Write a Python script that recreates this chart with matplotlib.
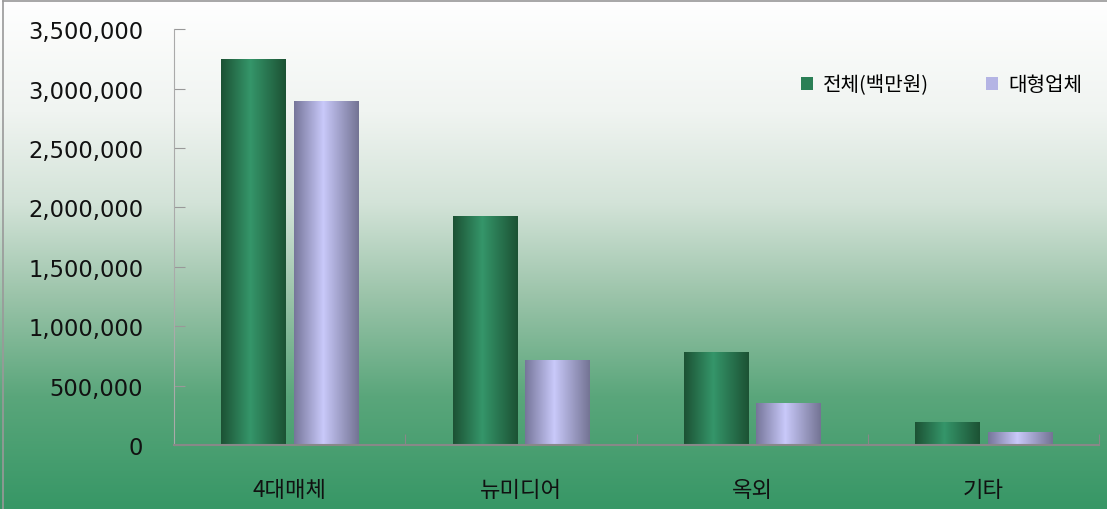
import numpy as np
import matplotlib.pyplot as plt
from matplotlib.colors import LinearSegmentedColormap
from matplotlib.patches import Rectangle

plt.rcParams['font.family'] = ['Noto Sans CJK KR', 'DejaVu Sans']

categories = ['4대매체', '뉴미디어', '옥외', '기타']
total = [3247000, 1926000, 782000, 193000]      # 전체(백만원)
large = [2894000, 715000, 353000, 109000]       # 대형업체
series_names = ['전체(백만원)', '대형업체']
yticks = [0, 500000, 1000000, 1500000, 2000000, 2500000, 3000000, 3500000]

fig = plt.figure(figsize=(11.07, 5.10), dpi=100)

# figure background: white at top fading to green at bottom
bg = fig.add_axes([0, 0, 1, 1], zorder=-10)
bg_cmap = LinearSegmentedColormap.from_list('bg', [
    (0.0, '#379766'), (0.22, '#5aa67b'), (0.42, '#9cc4aa'),
    (0.6, '#d3e3d8'), (0.78, '#f0f4f1'), (1.0, '#ffffff')])
grad = np.linspace(0, 1, 256).reshape(-1, 1)
bg.imshow(grad, cmap=bg_cmap, aspect='auto', origin='lower', extent=(0, 1, 0, 1))
bg.set_xlim(0, 1)
bg.set_ylim(0, 1)
bg.axis('off')
# thin frame on the left and top
bg.plot([0.003, 0.003], [0, 0.996], color='#999999', lw=1.2)
bg.plot([0.003, 1], [0.996, 0.996], color='#999999', lw=1.2)

ax = fig.add_axes([0.157, 0.1255, 0.836, 0.8155])
ax.patch.set_alpha(0)

x = np.arange(len(categories))
w = 0.277
off = 0.156

green_cmap = LinearSegmentedColormap.from_list('g', [
    (0, '#1c5234'), (0.45, '#35966a'), (1, '#1c5234')])
purple_cmap = LinearSegmentedColormap.from_list('p', [
    (0, '#76769a'), (0.45, '#c9c9fa'), (1, '#747494')])

bars1 = ax.bar(x - off, total, w, color='#2e8b5e', label=series_names[0])
bars2 = ax.bar(x + off, large, w, color='#b0b0e0', label=series_names[1])

hgrad = np.linspace(0, 1, 128).reshape(1, -1)
for bars, cm in [(bars1, green_cmap), (bars2, purple_cmap)]:
    for p in bars:
        im = ax.imshow(hgrad, cmap=cm, aspect='auto',
                       extent=(p.get_x(), p.get_x() + p.get_width(), 0, p.get_height()),
                       zorder=2)
        im.set_clip_path(p)

ax.set_xlim(-0.5, len(categories) - 0.5)
ax.set_ylim(0, 3500000)
ax.set_yticks(yticks)
ax.set_yticklabels([f'{v:,}' for v in yticks], family=['DejaVu Sans'])
ax.tick_params(axis='y', direction='in', length=8, color='#999999',
               labelsize=16.3, pad=22, labelcolor='#111111')

ax.set_xticks(np.arange(len(categories) + 1) - 0.5)
ax.set_xticklabels([])
ax.set_xticks(x, minor=True)
ax.set_xticklabels(categories, minor=True)
ax.tick_params(axis='x', which='major', direction='in', length=8, color='#888888')
ax.tick_params(axis='x', which='minor', length=0, labelsize=16, pad=24,
               labelcolor='#111111')

for s in ['top', 'right']:
    ax.spines[s].set_visible(False)
ax.spines['left'].set_color('#aaaaaa')
ax.spines['bottom'].set_color('#888888')
ax.spines['bottom'].set_linewidth(1.5)

# legend squares
h1 = Rectangle((0, 0), 1, 1, facecolor='#2a7f55', edgecolor='none')
h2 = Rectangle((0, 0), 1, 1, facecolor='#b4b4e4', edgecolor='none')
ax.legend([h1, h2], series_names, loc='upper right', bbox_to_anchor=(1.001, 0.935),
          ncol=2, frameon=False, fontsize=14.5, handlelength=0.6, handleheight=0.6,
          handletextpad=0.5, columnspacing=2.8)

fig.savefig('out.png', dpi=100)
